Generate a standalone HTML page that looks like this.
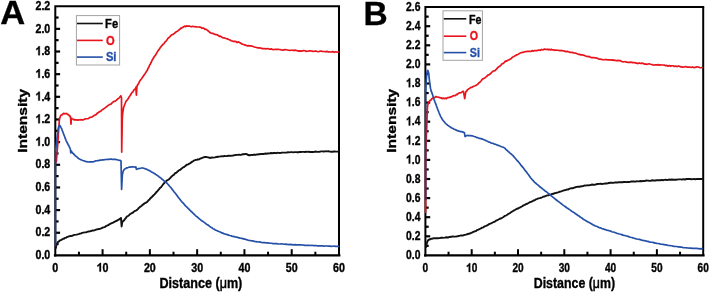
<!DOCTYPE html>
<html><head><meta charset="utf-8"><title>Intensity profiles</title>
<style>
html,body{margin:0;padding:0;background:#fff;}
body{width:709px;height:292px;overflow:hidden;font-family:"Liberation Sans",sans-serif;}
svg{display:block;will-change:transform;}
</style></head><body>
<svg width="709" height="292" viewBox="0 0 709 292">
<rect width="709" height="292" fill="#fff"/>
<text font-family="Liberation Sans, sans-serif" font-weight="bold" stroke-width="0.35" fill="#000" stroke="#000" font-size="33.5" transform="translate(0.2,24.2) scale(1.03,1)">A</text>
<text font-family="Liberation Sans, sans-serif" font-weight="bold" stroke-width="0.35" fill="#000" stroke="#000" font-size="33.5" transform="translate(363.6,25.3) scale(1.0,1)">B</text>
<path d="M55.30 255.40 V6.20 H339.00" fill="none" stroke="#000" stroke-width="2.0" stroke-linecap="square"/>
<path d="M339.00 6.20 V255.40" fill="none" stroke="#000" stroke-width="2.0"/>
<path d="M55.10 255.40 H339.20" fill="none" stroke="#000" stroke-width="2.4" stroke-linecap="square"/>
<line x1="55.30" y1="244.07" x2="58.60" y2="244.07" stroke="#000" stroke-width="2.2"/>
<line x1="55.30" y1="232.75" x2="60.10" y2="232.75" stroke="#000" stroke-width="2.2"/>
<line x1="55.30" y1="221.42" x2="58.60" y2="221.42" stroke="#000" stroke-width="2.2"/>
<line x1="55.30" y1="210.09" x2="60.10" y2="210.09" stroke="#000" stroke-width="2.2"/>
<line x1="55.30" y1="198.76" x2="58.60" y2="198.76" stroke="#000" stroke-width="2.2"/>
<line x1="55.30" y1="187.44" x2="60.10" y2="187.44" stroke="#000" stroke-width="2.2"/>
<line x1="55.30" y1="176.11" x2="58.60" y2="176.11" stroke="#000" stroke-width="2.2"/>
<line x1="55.30" y1="164.78" x2="60.10" y2="164.78" stroke="#000" stroke-width="2.2"/>
<line x1="55.30" y1="153.45" x2="58.60" y2="153.45" stroke="#000" stroke-width="2.2"/>
<line x1="55.30" y1="142.13" x2="60.10" y2="142.13" stroke="#000" stroke-width="2.2"/>
<line x1="55.30" y1="130.80" x2="58.60" y2="130.80" stroke="#000" stroke-width="2.2"/>
<line x1="55.30" y1="119.47" x2="60.10" y2="119.47" stroke="#000" stroke-width="2.2"/>
<line x1="55.30" y1="108.15" x2="58.60" y2="108.15" stroke="#000" stroke-width="2.2"/>
<line x1="55.30" y1="96.82" x2="60.10" y2="96.82" stroke="#000" stroke-width="2.2"/>
<line x1="55.30" y1="85.49" x2="58.60" y2="85.49" stroke="#000" stroke-width="2.2"/>
<line x1="55.30" y1="74.16" x2="60.10" y2="74.16" stroke="#000" stroke-width="2.2"/>
<line x1="55.30" y1="62.84" x2="58.60" y2="62.84" stroke="#000" stroke-width="2.2"/>
<line x1="55.30" y1="51.51" x2="60.10" y2="51.51" stroke="#000" stroke-width="2.2"/>
<line x1="55.30" y1="40.18" x2="58.60" y2="40.18" stroke="#000" stroke-width="2.2"/>
<line x1="55.30" y1="28.85" x2="60.10" y2="28.85" stroke="#000" stroke-width="2.2"/>
<line x1="55.30" y1="17.53" x2="58.60" y2="17.53" stroke="#000" stroke-width="2.2"/>
<line x1="78.94" y1="255.40" x2="78.94" y2="251.70" stroke="#000" stroke-width="2"/>
<line x1="102.58" y1="255.40" x2="102.58" y2="249.20" stroke="#000" stroke-width="2"/>
<line x1="126.22" y1="255.40" x2="126.22" y2="251.70" stroke="#000" stroke-width="2"/>
<line x1="149.87" y1="255.40" x2="149.87" y2="249.20" stroke="#000" stroke-width="2"/>
<line x1="173.51" y1="255.40" x2="173.51" y2="251.70" stroke="#000" stroke-width="2"/>
<line x1="197.15" y1="255.40" x2="197.15" y2="249.20" stroke="#000" stroke-width="2"/>
<line x1="220.79" y1="255.40" x2="220.79" y2="251.70" stroke="#000" stroke-width="2"/>
<line x1="244.43" y1="255.40" x2="244.43" y2="249.20" stroke="#000" stroke-width="2"/>
<line x1="268.07" y1="255.40" x2="268.07" y2="251.70" stroke="#000" stroke-width="2"/>
<line x1="291.72" y1="255.40" x2="291.72" y2="249.20" stroke="#000" stroke-width="2"/>
<line x1="315.36" y1="255.40" x2="315.36" y2="251.70" stroke="#000" stroke-width="2"/>
<text font-family="Liberation Sans, sans-serif" font-weight="bold" stroke-width="0.35" fill="#000" stroke="#000" font-size="12.40" transform="translate(35.477,259.100) scale(0.860,1)">0</text>
<text font-family="Liberation Sans, sans-serif" font-weight="bold" stroke-width="0.35" fill="#000" stroke="#000" font-size="12.40" transform="translate(41.406,259.100) scale(0.860,1)">.</text>
<text font-family="Liberation Sans, sans-serif" font-weight="bold" stroke-width="0.35" fill="#000" stroke="#000" font-size="12.40" transform="translate(44.371,259.100) scale(0.860,1)">0</text>
<text font-family="Liberation Sans, sans-serif" font-weight="bold" stroke-width="0.35" fill="#000" stroke="#000" font-size="12.40" transform="translate(35.477,236.445) scale(0.860,1)">0</text>
<text font-family="Liberation Sans, sans-serif" font-weight="bold" stroke-width="0.35" fill="#000" stroke="#000" font-size="12.40" transform="translate(41.406,236.445) scale(0.860,1)">.</text>
<text font-family="Liberation Sans, sans-serif" font-weight="bold" stroke-width="0.35" fill="#000" stroke="#000" font-size="12.40" transform="translate(44.371,236.445) scale(0.860,1)">2</text>
<text font-family="Liberation Sans, sans-serif" font-weight="bold" stroke-width="0.35" fill="#000" stroke="#000" font-size="12.40" transform="translate(35.477,213.791) scale(0.860,1)">0</text>
<text font-family="Liberation Sans, sans-serif" font-weight="bold" stroke-width="0.35" fill="#000" stroke="#000" font-size="12.40" transform="translate(41.406,213.791) scale(0.860,1)">.</text>
<text font-family="Liberation Sans, sans-serif" font-weight="bold" stroke-width="0.35" fill="#000" stroke="#000" font-size="12.40" transform="translate(44.371,213.791) scale(0.860,1)">4</text>
<text font-family="Liberation Sans, sans-serif" font-weight="bold" stroke-width="0.35" fill="#000" stroke="#000" font-size="12.40" transform="translate(35.477,191.136) scale(0.860,1)">0</text>
<text font-family="Liberation Sans, sans-serif" font-weight="bold" stroke-width="0.35" fill="#000" stroke="#000" font-size="12.40" transform="translate(41.406,191.136) scale(0.860,1)">.</text>
<text font-family="Liberation Sans, sans-serif" font-weight="bold" stroke-width="0.35" fill="#000" stroke="#000" font-size="12.40" transform="translate(44.371,191.136) scale(0.860,1)">6</text>
<text font-family="Liberation Sans, sans-serif" font-weight="bold" stroke-width="0.35" fill="#000" stroke="#000" font-size="12.40" transform="translate(35.477,168.482) scale(0.860,1)">0</text>
<text font-family="Liberation Sans, sans-serif" font-weight="bold" stroke-width="0.35" fill="#000" stroke="#000" font-size="12.40" transform="translate(41.406,168.482) scale(0.860,1)">.</text>
<text font-family="Liberation Sans, sans-serif" font-weight="bold" stroke-width="0.35" fill="#000" stroke="#000" font-size="12.40" transform="translate(44.371,168.482) scale(0.860,1)">8</text>
<path d="M405 0H266V516Q192 446 78 410V536Q140 556 206 606Q270 656 292 716H405Z" fill="#000" stroke="#000" stroke-width="0.35" vector-effect="non-scaling-stroke" transform="translate(35.477,145.827) scale(0.01066,-0.01240)"/>
<text font-family="Liberation Sans, sans-serif" font-weight="bold" stroke-width="0.35" fill="#000" stroke="#000" font-size="12.40" transform="translate(41.406,145.827) scale(0.860,1)">.</text>
<text font-family="Liberation Sans, sans-serif" font-weight="bold" stroke-width="0.35" fill="#000" stroke="#000" font-size="12.40" transform="translate(44.371,145.827) scale(0.860,1)">0</text>
<path d="M405 0H266V516Q192 446 78 410V536Q140 556 206 606Q270 656 292 716H405Z" fill="#000" stroke="#000" stroke-width="0.35" vector-effect="non-scaling-stroke" transform="translate(35.477,123.173) scale(0.01066,-0.01240)"/>
<text font-family="Liberation Sans, sans-serif" font-weight="bold" stroke-width="0.35" fill="#000" stroke="#000" font-size="12.40" transform="translate(41.406,123.173) scale(0.860,1)">.</text>
<text font-family="Liberation Sans, sans-serif" font-weight="bold" stroke-width="0.35" fill="#000" stroke="#000" font-size="12.40" transform="translate(44.371,123.173) scale(0.860,1)">2</text>
<path d="M405 0H266V516Q192 446 78 410V536Q140 556 206 606Q270 656 292 716H405Z" fill="#000" stroke="#000" stroke-width="0.35" vector-effect="non-scaling-stroke" transform="translate(35.477,100.518) scale(0.01066,-0.01240)"/>
<text font-family="Liberation Sans, sans-serif" font-weight="bold" stroke-width="0.35" fill="#000" stroke="#000" font-size="12.40" transform="translate(41.406,100.518) scale(0.860,1)">.</text>
<text font-family="Liberation Sans, sans-serif" font-weight="bold" stroke-width="0.35" fill="#000" stroke="#000" font-size="12.40" transform="translate(44.371,100.518) scale(0.860,1)">4</text>
<path d="M405 0H266V516Q192 446 78 410V536Q140 556 206 606Q270 656 292 716H405Z" fill="#000" stroke="#000" stroke-width="0.35" vector-effect="non-scaling-stroke" transform="translate(35.477,77.864) scale(0.01066,-0.01240)"/>
<text font-family="Liberation Sans, sans-serif" font-weight="bold" stroke-width="0.35" fill="#000" stroke="#000" font-size="12.40" transform="translate(41.406,77.864) scale(0.860,1)">.</text>
<text font-family="Liberation Sans, sans-serif" font-weight="bold" stroke-width="0.35" fill="#000" stroke="#000" font-size="12.40" transform="translate(44.371,77.864) scale(0.860,1)">6</text>
<path d="M405 0H266V516Q192 446 78 410V536Q140 556 206 606Q270 656 292 716H405Z" fill="#000" stroke="#000" stroke-width="0.35" vector-effect="non-scaling-stroke" transform="translate(35.477,55.209) scale(0.01066,-0.01240)"/>
<text font-family="Liberation Sans, sans-serif" font-weight="bold" stroke-width="0.35" fill="#000" stroke="#000" font-size="12.40" transform="translate(41.406,55.209) scale(0.860,1)">.</text>
<text font-family="Liberation Sans, sans-serif" font-weight="bold" stroke-width="0.35" fill="#000" stroke="#000" font-size="12.40" transform="translate(44.371,55.209) scale(0.860,1)">8</text>
<text font-family="Liberation Sans, sans-serif" font-weight="bold" stroke-width="0.35" fill="#000" stroke="#000" font-size="12.40" transform="translate(35.477,32.555) scale(0.860,1)">2</text>
<text font-family="Liberation Sans, sans-serif" font-weight="bold" stroke-width="0.35" fill="#000" stroke="#000" font-size="12.40" transform="translate(41.406,32.555) scale(0.860,1)">.</text>
<text font-family="Liberation Sans, sans-serif" font-weight="bold" stroke-width="0.35" fill="#000" stroke="#000" font-size="12.40" transform="translate(44.371,32.555) scale(0.860,1)">0</text>
<text font-family="Liberation Sans, sans-serif" font-weight="bold" stroke-width="0.35" fill="#000" stroke="#000" font-size="12.40" transform="translate(35.477,9.900) scale(0.860,1)">2</text>
<text font-family="Liberation Sans, sans-serif" font-weight="bold" stroke-width="0.35" fill="#000" stroke="#000" font-size="12.40" transform="translate(41.406,9.900) scale(0.860,1)">.</text>
<text font-family="Liberation Sans, sans-serif" font-weight="bold" stroke-width="0.35" fill="#000" stroke="#000" font-size="12.40" transform="translate(44.371,9.900) scale(0.860,1)">2</text>
<text font-family="Liberation Sans, sans-serif" font-weight="bold" stroke-width="0.35" fill="#000" stroke="#000" font-size="12.10" transform="translate(52.323,271.600) scale(0.885,1)">0</text>
<path d="M405 0H266V516Q192 446 78 410V536Q140 556 206 606Q270 656 292 716H405Z" fill="#000" stroke="#000" stroke-width="0.35" vector-effect="non-scaling-stroke" transform="translate(96.629,271.600) scale(0.01071,-0.01210)"/>
<text font-family="Liberation Sans, sans-serif" font-weight="bold" stroke-width="0.35" fill="#000" stroke="#000" font-size="12.10" transform="translate(102.583,271.600) scale(0.885,1)">0</text>
<text font-family="Liberation Sans, sans-serif" font-weight="bold" stroke-width="0.35" fill="#000" stroke="#000" font-size="12.10" transform="translate(143.913,271.600) scale(0.885,1)">2</text>
<text font-family="Liberation Sans, sans-serif" font-weight="bold" stroke-width="0.35" fill="#000" stroke="#000" font-size="12.10" transform="translate(149.867,271.600) scale(0.885,1)">0</text>
<text font-family="Liberation Sans, sans-serif" font-weight="bold" stroke-width="0.35" fill="#000" stroke="#000" font-size="12.10" transform="translate(191.196,271.600) scale(0.885,1)">3</text>
<text font-family="Liberation Sans, sans-serif" font-weight="bold" stroke-width="0.35" fill="#000" stroke="#000" font-size="12.10" transform="translate(197.150,271.600) scale(0.885,1)">0</text>
<text font-family="Liberation Sans, sans-serif" font-weight="bold" stroke-width="0.35" fill="#000" stroke="#000" font-size="12.10" transform="translate(238.479,271.600) scale(0.885,1)">4</text>
<text font-family="Liberation Sans, sans-serif" font-weight="bold" stroke-width="0.35" fill="#000" stroke="#000" font-size="12.10" transform="translate(244.433,271.600) scale(0.885,1)">0</text>
<text font-family="Liberation Sans, sans-serif" font-weight="bold" stroke-width="0.35" fill="#000" stroke="#000" font-size="12.10" transform="translate(285.763,271.600) scale(0.885,1)">5</text>
<text font-family="Liberation Sans, sans-serif" font-weight="bold" stroke-width="0.35" fill="#000" stroke="#000" font-size="12.10" transform="translate(291.717,271.600) scale(0.885,1)">0</text>
<text font-family="Liberation Sans, sans-serif" font-weight="bold" stroke-width="0.35" fill="#000" stroke="#000" font-size="12.10" transform="translate(333.046,271.600) scale(0.885,1)">6</text>
<text font-family="Liberation Sans, sans-serif" font-weight="bold" stroke-width="0.35" fill="#000" stroke="#000" font-size="12.10" transform="translate(339.000,271.600) scale(0.885,1)">0</text>
<text font-family="Liberation Sans, sans-serif" font-weight="bold" stroke-width="0.35" fill="#000" stroke="#000" font-size="14.4" text-anchor="middle" transform="translate(200.9,287.6) scale(0.875,1)">Distance (<tspan font-weight="normal" stroke-width="0.5">μ</tspan>m)</text>
<text font-family="Liberation Sans, sans-serif" font-weight="bold" stroke-width="0.35" fill="#000" stroke="#000" font-size="13.6" text-anchor="middle" transform="translate(27.2,120.85) rotate(-90) scale(1.144,0.95)">Intensity</text>
<rect x="76.40" y="15.60" width="43.20" height="49.40" fill="#fff" stroke="#a3a3a3" stroke-width="1"/>
<line x1="77.00" y1="23.50" x2="102.80" y2="23.50" stroke="#111" stroke-width="1.6"/>
<text font-family="Liberation Sans, sans-serif" font-weight="bold" stroke-width="0.35" font-size="12.00" fill="#000" stroke="#000" transform="translate(105.10,27.80) scale(0.930,1)">Fe</text>
<line x1="77.00" y1="40.40" x2="102.80" y2="40.40" stroke="#e8141c" stroke-width="1.6"/>
<text font-family="Liberation Sans, sans-serif" font-weight="bold" stroke-width="0.35" font-size="12.00" fill="#e8141c" stroke="#e8141c" transform="translate(105.90,44.70) scale(0.930,1)">O</text>
<line x1="77.00" y1="57.10" x2="102.80" y2="57.10" stroke="#2450a8" stroke-width="1.6"/>
<text font-family="Liberation Sans, sans-serif" font-weight="bold" stroke-width="0.35" font-size="12.00" fill="#2450a8" stroke="#2450a8" transform="translate(105.90,61.40) scale(0.930,1)">Si</text>
<polyline points="55.90,247.90 55.93,247.58 56.02,247.30 56.15,246.22 56.32,245.69 56.50,244.92 56.68,244.22 56.89,243.95 57.11,243.19 57.38,242.92 57.70,242.26 58.11,241.80 58.58,241.55 59.09,241.36 59.63,240.57 60.20,240.25 60.87,240.06 61.58,239.85 62.33,239.27 63.11,238.80 63.90,238.77 64.80,237.85 65.72,237.92 66.67,237.23 67.69,236.78 68.80,236.39 70.52,235.97 72.41,235.74 74.43,234.86 76.51,234.57 78.60,234.08 79.79,233.64 80.99,233.44 82.22,232.88 83.46,232.58 84.72,232.37 85.98,232.34 87.24,231.90 88.50,231.53 89.75,231.36 91.00,230.97 92.27,230.56 93.54,230.51 94.84,230.12 96.15,229.53 97.43,229.37 98.71,229.00 99.92,228.83 101.13,228.39 103.30,227.38 104.69,227.17 105.96,226.06 107.14,225.59 108.28,225.15 109.40,224.21 110.37,223.89 111.32,223.14 112.24,223.00 113.14,222.59 114.00,222.04 114.69,221.88 115.35,221.26 116.00,221.18 116.65,220.81 117.30,220.44 118.15,219.85 119.13,219.41 120.05,218.83 120.73,218.08 121.00,217.99 121.09,218.88 121.17,220.47 121.26,221.67 121.34,223.09 121.43,224.22 121.51,225.15 121.60,226.44 121.83,225.19 122.07,223.43 122.30,222.28 122.48,221.91 122.94,221.37 123.56,220.64 124.20,220.30 124.75,219.29 125.16,218.81 125.55,218.34 125.93,218.06 126.34,217.08 126.80,216.77 127.37,216.29 127.99,215.97 128.65,215.44 129.32,214.98 130.00,214.18 130.72,213.76 131.46,213.24 132.21,213.05 132.96,212.62 133.70,211.70 134.39,211.30 135.08,210.94 135.76,210.55 136.44,210.27 137.10,209.85 137.80,209.07 138.47,208.25 139.14,207.79 139.81,207.07 140.50,206.54 141.19,206.18 141.88,205.48 142.59,204.84 143.29,204.38 144.00,203.90 144.69,203.08 145.39,203.10 146.09,202.59 146.76,202.19 147.40,201.67 147.94,200.98 148.44,200.52 148.92,199.87 149.43,199.65 150.00,198.75 151.00,197.77 152.13,196.72 153.32,195.49 154.50,194.38 155.60,193.05 156.52,192.00 157.39,191.08 158.24,190.05 159.10,189.17 160.00,187.93 161.04,187.18 162.12,185.74 163.21,184.18 164.31,182.99 165.40,181.91 166.34,181.07 167.29,180.15 168.23,179.82 169.14,179.19 170.00,178.18 170.66,177.59 171.27,176.79 171.86,176.23 172.46,175.79 173.10,175.17 173.85,174.82 174.64,173.77 175.45,173.01 176.24,172.87 177.00,172.02 177.62,171.31 178.21,171.07 178.80,170.33 179.39,170.17 180.00,169.97 180.66,169.42 181.34,168.85 182.03,168.13 182.72,167.71 183.40,167.11 184.08,166.97 184.75,166.34 185.43,165.99 186.11,165.26 186.80,164.74 187.49,164.65 188.19,164.34 188.90,163.88 189.60,163.46 190.30,163.08 190.98,162.64 191.66,161.96 192.34,161.74 193.02,161.27 193.70,160.74 194.38,160.40 195.06,160.21 195.75,159.89 196.43,159.85 197.10,159.76 197.67,159.30 198.22,159.44 198.77,159.36 199.36,159.22 200.00,158.72 201.08,158.28 202.29,157.81 203.56,157.31 204.82,156.93 206.00,156.97 206.92,157.18 207.78,157.36 208.64,157.43 209.53,157.77 210.50,157.97 211.86,157.49 213.30,157.58 214.82,157.41 216.42,157.02 218.10,156.74 220.45,156.35 221.74,156.08 223.02,156.32 224.34,155.97 225.67,156.14 226.99,156.15 228.30,155.73 229.55,155.64 230.80,155.85 232.94,155.55 235.08,155.07 237.15,154.88 239.08,154.71 240.80,154.93 241.82,154.69 242.76,154.10 243.63,154.26 244.44,154.20 245.20,153.99 245.71,153.89 246.18,154.14 246.62,154.07 247.06,154.18 247.50,154.86 247.92,154.80 248.34,154.85 248.75,155.19 249.17,155.00 249.60,155.31 250.06,155.31 250.53,154.95 251.00,154.94 251.49,154.92 252.00,154.85 252.61,155.01 253.24,154.77 253.89,154.80 254.60,154.57 255.40,154.93 257.04,154.43 259.00,154.25 261.09,154.06 263.14,154.01 265.00,153.56 266.22,153.74 267.30,153.45 268.37,153.43 269.56,153.38 271.00,153.03 272.30,153.20 273.60,152.99 274.90,152.82 276.12,153.20 277.34,152.79 278.55,152.89 279.77,152.97 281.12,152.81 282.47,152.61 283.82,152.65 285.18,152.60 286.56,152.66 287.95,152.22 289.34,152.41 290.73,152.17 292.04,152.13 293.36,152.36 294.68,152.16 296.00,152.13 297.27,152.21 298.53,152.26 299.80,151.95 301.07,152.01 302.35,151.92 303.64,151.90 304.92,151.97 306.21,151.80 307.49,151.83 308.76,151.77 310.04,152.01 311.31,151.85 312.56,151.93 313.80,151.95 315.04,151.55 316.28,151.70 317.85,151.89 319.43,151.81 321.00,151.40 322.43,151.37 323.85,151.54 325.28,151.32 326.84,151.40 328.39,151.30 329.95,151.62 331.38,151.68 332.81,151.74 334.24,151.32 335.81,151.63 337.38,151.59 338.60,151.50" fill="none" stroke="#111" stroke-width="1.90" stroke-linejoin="round" stroke-linecap="round"/>
<polyline points="56.30,161.70 56.37,161.52 56.53,159.55 56.65,157.55 56.76,156.80 56.88,154.88 57.00,153.51 57.10,152.67 57.20,151.28 57.37,148.69 57.53,146.91 57.70,144.99 57.85,142.86 58.00,140.74 58.13,138.81 58.25,137.08 58.37,134.44 58.48,132.91 58.60,130.95 58.70,129.20 58.80,128.14 58.90,127.11 59.00,125.77 59.10,124.13 59.17,123.68 59.21,122.28 59.27,121.22 59.39,119.33 59.60,118.40 59.84,117.41 60.12,117.26 60.45,116.12 60.84,115.35 61.30,115.03 61.83,114.98 62.43,114.49 63.08,113.68 63.75,113.34 64.40,113.85 65.02,113.56 65.66,113.77 66.30,113.44 66.91,113.66 67.50,114.46 68.07,114.54 68.63,114.60 69.17,115.72 69.63,115.89 70.00,116.45 70.21,116.25 70.38,117.37 70.50,117.16 70.58,118.17 70.60,117.96 70.68,119.16 70.76,120.64 70.84,122.26 70.92,123.01 71.00,124.19 71.10,123.05 71.20,121.33 71.30,119.75 71.40,118.32 71.57,118.30 72.02,118.63 72.65,118.98 73.34,119.23 74.00,119.82 74.85,119.63 75.78,120.01 76.76,119.90 77.78,120.14 78.80,119.90 79.98,120.02 81.19,119.66 82.44,120.03 83.71,119.58 85.00,118.94 86.58,118.73 88.23,118.59 89.90,117.30 91.54,117.22 93.10,116.14 94.57,115.33 95.99,114.62 97.37,113.20 98.71,112.26 100.00,111.46 101.05,110.96 102.06,109.71 103.04,109.43 104.01,108.64 105.00,107.91 105.98,107.09 106.96,106.43 107.94,105.58 108.92,105.03 109.90,104.34 110.92,104.18 111.94,103.01 112.95,102.16 113.95,101.35 114.90,101.29 115.69,100.78 116.47,100.13 117.22,99.33 117.94,98.81 118.60,98.33 119.21,97.87 119.85,96.91 120.43,96.47 120.84,95.80 121.00,96.19 121.50,97.70 121.50,98.55 121.51,99.50 121.51,101.32 121.52,101.98 121.52,103.22 121.53,104.13 121.53,105.66 121.54,106.95 121.54,108.18 121.54,109.14 121.55,110.60 121.55,111.39 121.56,112.82 121.56,113.88 121.57,115.35 121.57,116.26 121.58,117.45 121.58,118.90 121.58,120.04 121.59,121.55 121.59,122.71 121.60,124.11 121.60,125.24 121.61,126.49 121.61,127.84 121.62,128.64 121.62,129.79 121.62,131.56 121.63,132.06 121.63,133.75 121.64,134.90 121.64,135.60 121.65,137.47 121.65,138.73 121.66,139.72 121.66,141.02 121.66,142.29 121.67,142.93 121.67,144.47 121.68,145.66 121.68,147.15 121.69,148.33 121.69,149.56 121.70,150.56 121.70,152.03 121.72,150.65 121.74,149.46 121.76,147.86 121.79,146.49 121.81,145.37 121.83,144.36 121.85,142.94 121.87,142.35 121.89,140.92 121.91,139.77 121.94,138.57 121.96,137.41 121.98,136.04 122.00,134.43 122.02,133.90 122.04,132.65 122.06,131.24 122.09,130.07 122.11,128.97 122.13,127.26 122.15,126.62 122.17,125.01 122.19,123.66 122.21,122.62 122.24,121.80 122.26,120.16 122.28,119.41 122.30,118.40 122.40,116.74 122.50,115.40 122.60,114.23 122.70,113.15 122.76,112.82 122.91,111.67 123.13,110.32 123.40,108.40 123.70,107.20 124.02,106.22 124.39,105.56 124.79,104.13 125.23,103.33 125.70,101.89 126.17,101.11 126.67,100.52 127.20,100.11 127.75,99.37 128.30,98.55 128.96,97.20 129.64,96.31 130.34,95.16 131.06,94.06 131.80,92.68 132.72,92.07 133.80,90.06 134.82,89.38 135.59,88.36 135.90,87.19 135.98,88.87 136.07,90.47 136.15,91.89 136.23,92.76 136.32,93.91 136.40,95.16 136.47,94.52 136.54,92.64 136.61,91.70 136.69,90.07 136.76,89.13 136.83,88.24 136.90,86.29 136.94,86.77 137.04,86.24 137.20,86.18 137.39,85.60 137.60,84.77 138.15,84.38 138.86,82.87 139.69,81.21 140.55,79.87 141.40,78.99 142.32,77.62 143.27,76.17 144.25,74.67 145.23,73.41 146.20,71.85 147.36,70.18 147.93,68.33 148.50,67.81 149.07,66.70 149.64,64.90 150.22,64.39 150.80,63.03 151.40,62.06 152.00,60.42 153.16,58.48 154.34,56.53 155.54,55.11 156.76,52.89 158.00,50.88 159.17,49.31 160.36,47.61 161.56,45.89 162.78,44.44 164.00,43.58 165.19,41.70 166.38,40.84 167.59,38.89 168.80,37.60 170.00,36.61 171.02,35.42 172.03,34.73 173.05,34.42 174.07,33.59 175.10,32.76 176.15,31.84 177.23,31.32 178.30,30.61 179.34,29.58 180.30,29.08 180.96,28.06 181.56,28.19 182.14,27.53 182.74,27.42 183.40,27.02 184.16,26.47 184.96,26.09 185.79,26.70 186.64,25.94 187.50,26.18 188.47,26.05 189.47,26.05 190.50,26.50 191.54,26.80 192.60,26.30 193.81,26.75 195.07,26.60 196.34,26.97 197.59,27.02 198.80,27.02 199.88,27.19 200.95,27.41 201.99,28.20 202.98,28.10 203.90,28.16 204.60,29.05 205.25,29.47 205.87,29.39 206.45,29.52 207.00,29.94 207.42,30.17 207.79,30.71 208.16,30.82 208.55,31.27 209.00,31.60 209.72,32.26 210.53,32.91 211.40,33.17 212.30,33.26 213.20,33.63 214.18,34.11 215.20,34.36 216.24,34.70 217.27,34.84 218.30,35.41 219.31,36.40 220.31,36.11 221.31,36.86 222.33,37.39 223.40,38.00 224.67,37.93 225.99,38.45 227.34,38.89 228.68,39.48 230.00,39.95 231.26,40.80 232.53,41.14 233.79,41.57 234.96,41.21 236.00,41.51 236.56,42.20 237.05,42.44 237.51,42.15 238.01,42.33 238.60,41.98 239.99,42.76 241.64,43.83 243.45,44.44 245.31,45.14 247.10,45.80 248.81,45.61 250.53,45.85 252.25,46.20 253.98,46.81 255.70,47.25 257.40,47.80 259.10,47.94 260.79,48.20 262.49,48.58 264.20,48.56 265.91,48.82 267.63,48.52 269.35,49.24 271.08,48.87 272.80,49.55 274.52,49.44 276.24,49.28 277.96,49.25 279.68,49.48 281.40,49.91 283.14,50.08 284.91,49.69 286.67,49.75 288.38,50.23 290.00,50.37 291.20,50.27 292.28,50.19 293.36,50.56 294.55,50.12 296.00,50.43 297.32,50.62 298.65,51.09 299.97,50.88 301.22,51.13 302.48,50.83 303.73,50.68 304.98,50.74 306.36,51.38 307.74,51.22 309.11,50.93 310.49,50.74 311.87,51.19 313.25,51.39 314.63,51.22 316.01,51.13 317.25,51.52 318.50,51.77 319.75,51.23 321.00,51.11 322.43,51.41 323.85,51.52 325.28,51.78 326.83,51.42 328.39,51.97 329.95,51.97 331.38,51.81 332.81,51.60 334.24,52.28 335.81,51.77 337.38,52.24 338.60,52.00" fill="none" stroke="#e8141c" stroke-width="1.70" stroke-linejoin="round" stroke-linecap="round"/>
<line x1="55.6" y1="246" x2="55.6" y2="150" stroke="#1d3f8f" stroke-width="1.5"/>
<polyline points="55.70,149.92 55.75,149.51 55.87,148.61 56.04,147.02 56.22,145.62 56.40,144.00 56.62,142.04 56.86,140.01 57.10,137.97 57.36,135.98 57.60,134.13 57.79,132.33 57.95,130.84 58.13,129.30 58.34,128.21 58.60,126.89 58.76,126.39 58.93,125.94 59.11,125.66 59.30,125.53 59.50,125.42 59.70,125.44 59.92,125.72 60.15,126.01 60.38,126.19 60.60,126.51 60.93,127.34 61.26,127.98 61.59,128.56 61.93,129.62 62.30,130.46 62.96,132.19 63.70,134.21 64.48,136.32 65.26,138.34 66.00,140.23 66.52,141.37 67.04,142.58 67.55,143.29 68.04,144.45 68.50,145.11 68.86,145.86 69.22,146.67 69.56,147.32 69.86,147.81 70.10,148.26 70.23,148.79 70.34,149.19 70.42,149.74 70.48,149.80 70.50,149.96 70.65,151.62 70.80,152.86 71.40,151.17 71.45,151.37 71.57,151.56 71.74,151.63 71.96,151.95 72.20,152.27 72.80,153.22 73.59,153.85 74.48,154.89 75.41,155.82 76.30,156.45 77.08,157.10 77.86,157.95 78.66,158.45 79.49,158.91 80.40,159.56 81.54,159.99 82.78,160.47 84.07,160.82 85.36,161.41 86.60,161.72 87.64,161.80 88.67,161.98 89.68,161.74 90.69,161.78 91.70,161.79 92.72,161.81 93.74,161.62 94.76,161.22 95.78,160.94 96.80,160.78 97.84,160.60 98.88,160.54 99.92,160.12 100.96,160.14 102.00,159.97 103.02,159.88 104.04,159.78 105.06,159.65 106.08,159.51 107.10,159.45 108.12,159.39 109.14,159.46 110.16,159.19 111.18,159.20 112.20,159.38 113.26,159.27 114.34,159.29 115.42,159.38 116.45,159.67 117.40,159.75 118.12,160.08 118.83,160.22 119.50,160.42 120.07,160.37 120.50,160.48 120.65,160.55 120.78,160.75 120.89,160.89 120.97,160.86 121.00,160.82 121.03,162.12 121.05,163.42 121.08,164.68 121.10,165.95 121.13,167.22 121.16,168.41 121.18,169.49 121.21,170.95 121.23,172.03 121.26,173.35 121.29,174.54 121.31,175.89 121.34,176.97 121.37,178.23 121.39,179.48 121.42,180.69 121.44,182.15 121.47,183.31 121.50,184.47 121.52,185.74 121.55,187.16 121.57,188.26 121.60,189.42 121.66,188.32 121.73,187.00 121.79,185.83 121.85,184.29 121.92,183.13 121.98,181.96 122.05,180.69 122.11,179.44 122.17,177.91 122.24,176.71 122.30,175.39 122.60,173.71 122.90,172.24 122.96,171.93 123.14,171.55 123.40,170.74 123.73,170.23 124.10,169.58 124.59,169.08 125.16,168.84 125.80,168.53 126.49,167.96 127.20,167.83 128.12,167.55 129.13,167.19 130.18,167.06 131.22,166.86 132.20,166.81 133.09,166.83 134.07,167.01 134.98,167.12 135.64,167.07 135.90,167.05 135.90,166.95 136.15,168.25 136.40,169.31 138.30,168.64 138.63,168.53 139.46,168.53 140.58,168.26 141.77,167.97 142.80,167.98 143.68,168.22 144.54,168.53 145.40,168.90 146.25,169.10 147.10,169.50 147.97,170.05 148.83,170.39 149.69,170.80 150.55,171.27 151.40,171.94 152.27,172.22 153.13,172.77 153.99,173.20 154.85,173.73 155.70,174.41 156.57,175.05 157.44,175.48 158.29,176.08 159.15,176.90 160.00,177.41 160.87,178.04 161.75,179.01 162.62,179.58 163.48,180.40 164.30,180.97 165.00,181.70 165.67,182.13 166.33,182.60 167.00,183.16 167.70,184.02 168.73,185.16 169.80,186.50 170.90,187.61 172.01,189.16 173.10,190.46 174.21,191.93 175.33,193.30 176.44,194.82 177.53,196.34 178.60,197.83 179.50,198.71 180.38,199.91 181.25,201.06 182.12,202.14 183.00,202.91 183.83,203.81 184.67,204.94 185.51,205.82 186.35,206.53 187.20,207.27 188.06,208.40 188.93,209.12 189.80,210.15 190.66,210.92 191.50,211.80 192.20,212.28 192.87,213.11 193.54,213.57 194.24,214.28 195.00,215.10 196.09,216.08 197.27,216.95 198.50,218.04 199.76,219.17 201.00,220.21 202.19,221.05 203.38,221.82 204.59,222.68 205.80,223.64 207.00,224.52 208.20,225.12 209.39,226.15 210.58,227.08 211.78,227.69 213.00,228.70 214.18,229.16 215.38,229.93 216.58,230.50 217.79,231.09 219.00,231.54 220.19,232.10 221.39,232.65 222.59,233.09 223.79,233.61 225.00,233.98 226.21,234.39 227.45,234.64 228.68,235.18 229.88,235.48 231.00,235.72 231.83,236.12 232.58,236.34 233.33,236.45 234.12,236.57 235.00,236.89 236.54,237.16 238.31,237.58 240.16,238.09 241.94,238.40 243.50,238.88 244.41,239.14 245.21,239.22 245.98,239.61 246.79,239.66 247.70,240.07 249.21,240.41 250.88,240.67 252.66,240.87 254.45,241.32 256.20,241.56 257.88,241.98 259.56,241.94 261.24,242.35 262.92,242.57 264.60,242.67 266.30,242.87 268.00,242.85 269.70,243.25 271.40,243.25 273.10,243.54 274.75,243.66 276.37,243.55 278.00,243.85 279.69,244.01 281.50,243.87 282.71,244.03 283.93,244.24 285.19,244.14 286.46,244.44 287.79,244.33 289.13,244.58 290.55,244.46 291.97,244.64 293.48,244.85 295.00,244.71 296.58,244.80 298.16,244.94 299.74,244.96 301.06,244.93 302.39,245.02 303.71,245.07 305.03,245.35 306.41,245.33 307.80,245.44 309.18,245.28 310.56,245.51 311.92,245.36 313.27,245.53 314.63,245.61 315.99,245.58 317.24,245.78 318.49,245.73 319.75,245.78 321.00,245.91 322.43,245.73 323.87,246.05 325.30,245.99 326.86,245.97 328.41,246.15 329.97,246.04 331.40,246.31 332.83,246.23 334.25,246.21 335.82,246.39 337.38,246.34 338.60,246.40" fill="none" stroke="#2450a8" stroke-width="1.70" stroke-linejoin="round" stroke-linecap="round"/>
<path d="M425.40 255.40 V7.10 H703.20" fill="none" stroke="#000" stroke-width="2.0" stroke-linecap="square"/>
<path d="M703.20 7.10 V255.40" fill="none" stroke="#000" stroke-width="2.0"/>
<path d="M425.20 255.40 H703.40" fill="none" stroke="#000" stroke-width="2.4" stroke-linecap="square"/>
<line x1="425.40" y1="245.85" x2="428.70" y2="245.85" stroke="#000" stroke-width="2.2"/>
<line x1="425.40" y1="236.30" x2="430.20" y2="236.30" stroke="#000" stroke-width="2.2"/>
<line x1="425.40" y1="226.75" x2="428.70" y2="226.75" stroke="#000" stroke-width="2.2"/>
<line x1="425.40" y1="217.20" x2="430.20" y2="217.20" stroke="#000" stroke-width="2.2"/>
<line x1="425.40" y1="207.65" x2="428.70" y2="207.65" stroke="#000" stroke-width="2.2"/>
<line x1="425.40" y1="198.10" x2="430.20" y2="198.10" stroke="#000" stroke-width="2.2"/>
<line x1="425.40" y1="188.55" x2="428.70" y2="188.55" stroke="#000" stroke-width="2.2"/>
<line x1="425.40" y1="179.00" x2="430.20" y2="179.00" stroke="#000" stroke-width="2.2"/>
<line x1="425.40" y1="169.45" x2="428.70" y2="169.45" stroke="#000" stroke-width="2.2"/>
<line x1="425.40" y1="159.90" x2="430.20" y2="159.90" stroke="#000" stroke-width="2.2"/>
<line x1="425.40" y1="150.35" x2="428.70" y2="150.35" stroke="#000" stroke-width="2.2"/>
<line x1="425.40" y1="140.80" x2="430.20" y2="140.80" stroke="#000" stroke-width="2.2"/>
<line x1="425.40" y1="131.25" x2="428.70" y2="131.25" stroke="#000" stroke-width="2.2"/>
<line x1="425.40" y1="121.70" x2="430.20" y2="121.70" stroke="#000" stroke-width="2.2"/>
<line x1="425.40" y1="112.15" x2="428.70" y2="112.15" stroke="#000" stroke-width="2.2"/>
<line x1="425.40" y1="102.60" x2="430.20" y2="102.60" stroke="#000" stroke-width="2.2"/>
<line x1="425.40" y1="93.05" x2="428.70" y2="93.05" stroke="#000" stroke-width="2.2"/>
<line x1="425.40" y1="83.50" x2="430.20" y2="83.50" stroke="#000" stroke-width="2.2"/>
<line x1="425.40" y1="73.95" x2="428.70" y2="73.95" stroke="#000" stroke-width="2.2"/>
<line x1="425.40" y1="64.40" x2="430.20" y2="64.40" stroke="#000" stroke-width="2.2"/>
<line x1="425.40" y1="54.85" x2="428.70" y2="54.85" stroke="#000" stroke-width="2.2"/>
<line x1="425.40" y1="45.30" x2="430.20" y2="45.30" stroke="#000" stroke-width="2.2"/>
<line x1="425.40" y1="35.75" x2="428.70" y2="35.75" stroke="#000" stroke-width="2.2"/>
<line x1="425.40" y1="26.20" x2="430.20" y2="26.20" stroke="#000" stroke-width="2.2"/>
<line x1="425.40" y1="16.65" x2="428.70" y2="16.65" stroke="#000" stroke-width="2.2"/>
<line x1="448.55" y1="255.40" x2="448.55" y2="251.70" stroke="#000" stroke-width="2"/>
<line x1="471.70" y1="255.40" x2="471.70" y2="249.20" stroke="#000" stroke-width="2"/>
<line x1="494.85" y1="255.40" x2="494.85" y2="251.70" stroke="#000" stroke-width="2"/>
<line x1="518.00" y1="255.40" x2="518.00" y2="249.20" stroke="#000" stroke-width="2"/>
<line x1="541.15" y1="255.40" x2="541.15" y2="251.70" stroke="#000" stroke-width="2"/>
<line x1="564.30" y1="255.40" x2="564.30" y2="249.20" stroke="#000" stroke-width="2"/>
<line x1="587.45" y1="255.40" x2="587.45" y2="251.70" stroke="#000" stroke-width="2"/>
<line x1="610.60" y1="255.40" x2="610.60" y2="249.20" stroke="#000" stroke-width="2"/>
<line x1="633.75" y1="255.40" x2="633.75" y2="251.70" stroke="#000" stroke-width="2"/>
<line x1="656.90" y1="255.40" x2="656.90" y2="249.20" stroke="#000" stroke-width="2"/>
<line x1="680.05" y1="255.40" x2="680.05" y2="251.70" stroke="#000" stroke-width="2"/>
<text font-family="Liberation Sans, sans-serif" font-weight="bold" stroke-width="0.35" fill="#000" stroke="#000" font-size="12.40" transform="translate(406.008,259.100) scale(0.835,1)">0</text>
<text font-family="Liberation Sans, sans-serif" font-weight="bold" stroke-width="0.35" fill="#000" stroke="#000" font-size="12.40" transform="translate(411.765,259.100) scale(0.835,1)">.</text>
<text font-family="Liberation Sans, sans-serif" font-weight="bold" stroke-width="0.35" fill="#000" stroke="#000" font-size="12.40" transform="translate(414.643,259.100) scale(0.835,1)">0</text>
<text font-family="Liberation Sans, sans-serif" font-weight="bold" stroke-width="0.35" fill="#000" stroke="#000" font-size="12.40" transform="translate(406.008,240.000) scale(0.835,1)">0</text>
<text font-family="Liberation Sans, sans-serif" font-weight="bold" stroke-width="0.35" fill="#000" stroke="#000" font-size="12.40" transform="translate(411.765,240.000) scale(0.835,1)">.</text>
<text font-family="Liberation Sans, sans-serif" font-weight="bold" stroke-width="0.35" fill="#000" stroke="#000" font-size="12.40" transform="translate(414.643,240.000) scale(0.835,1)">2</text>
<text font-family="Liberation Sans, sans-serif" font-weight="bold" stroke-width="0.35" fill="#000" stroke="#000" font-size="12.40" transform="translate(406.008,220.900) scale(0.835,1)">0</text>
<text font-family="Liberation Sans, sans-serif" font-weight="bold" stroke-width="0.35" fill="#000" stroke="#000" font-size="12.40" transform="translate(411.765,220.900) scale(0.835,1)">.</text>
<text font-family="Liberation Sans, sans-serif" font-weight="bold" stroke-width="0.35" fill="#000" stroke="#000" font-size="12.40" transform="translate(414.643,220.900) scale(0.835,1)">4</text>
<text font-family="Liberation Sans, sans-serif" font-weight="bold" stroke-width="0.35" fill="#000" stroke="#000" font-size="12.40" transform="translate(406.008,201.800) scale(0.835,1)">0</text>
<text font-family="Liberation Sans, sans-serif" font-weight="bold" stroke-width="0.35" fill="#000" stroke="#000" font-size="12.40" transform="translate(411.765,201.800) scale(0.835,1)">.</text>
<text font-family="Liberation Sans, sans-serif" font-weight="bold" stroke-width="0.35" fill="#000" stroke="#000" font-size="12.40" transform="translate(414.643,201.800) scale(0.835,1)">6</text>
<text font-family="Liberation Sans, sans-serif" font-weight="bold" stroke-width="0.35" fill="#000" stroke="#000" font-size="12.40" transform="translate(406.008,182.700) scale(0.835,1)">0</text>
<text font-family="Liberation Sans, sans-serif" font-weight="bold" stroke-width="0.35" fill="#000" stroke="#000" font-size="12.40" transform="translate(411.765,182.700) scale(0.835,1)">.</text>
<text font-family="Liberation Sans, sans-serif" font-weight="bold" stroke-width="0.35" fill="#000" stroke="#000" font-size="12.40" transform="translate(414.643,182.700) scale(0.835,1)">8</text>
<path d="M405 0H266V516Q192 446 78 410V536Q140 556 206 606Q270 656 292 716H405Z" fill="#000" stroke="#000" stroke-width="0.35" vector-effect="non-scaling-stroke" transform="translate(406.008,163.600) scale(0.01035,-0.01240)"/>
<text font-family="Liberation Sans, sans-serif" font-weight="bold" stroke-width="0.35" fill="#000" stroke="#000" font-size="12.40" transform="translate(411.765,163.600) scale(0.835,1)">.</text>
<text font-family="Liberation Sans, sans-serif" font-weight="bold" stroke-width="0.35" fill="#000" stroke="#000" font-size="12.40" transform="translate(414.643,163.600) scale(0.835,1)">0</text>
<path d="M405 0H266V516Q192 446 78 410V536Q140 556 206 606Q270 656 292 716H405Z" fill="#000" stroke="#000" stroke-width="0.35" vector-effect="non-scaling-stroke" transform="translate(406.008,144.500) scale(0.01035,-0.01240)"/>
<text font-family="Liberation Sans, sans-serif" font-weight="bold" stroke-width="0.35" fill="#000" stroke="#000" font-size="12.40" transform="translate(411.765,144.500) scale(0.835,1)">.</text>
<text font-family="Liberation Sans, sans-serif" font-weight="bold" stroke-width="0.35" fill="#000" stroke="#000" font-size="12.40" transform="translate(414.643,144.500) scale(0.835,1)">2</text>
<path d="M405 0H266V516Q192 446 78 410V536Q140 556 206 606Q270 656 292 716H405Z" fill="#000" stroke="#000" stroke-width="0.35" vector-effect="non-scaling-stroke" transform="translate(406.008,125.400) scale(0.01035,-0.01240)"/>
<text font-family="Liberation Sans, sans-serif" font-weight="bold" stroke-width="0.35" fill="#000" stroke="#000" font-size="12.40" transform="translate(411.765,125.400) scale(0.835,1)">.</text>
<text font-family="Liberation Sans, sans-serif" font-weight="bold" stroke-width="0.35" fill="#000" stroke="#000" font-size="12.40" transform="translate(414.643,125.400) scale(0.835,1)">4</text>
<path d="M405 0H266V516Q192 446 78 410V536Q140 556 206 606Q270 656 292 716H405Z" fill="#000" stroke="#000" stroke-width="0.35" vector-effect="non-scaling-stroke" transform="translate(406.008,106.300) scale(0.01035,-0.01240)"/>
<text font-family="Liberation Sans, sans-serif" font-weight="bold" stroke-width="0.35" fill="#000" stroke="#000" font-size="12.40" transform="translate(411.765,106.300) scale(0.835,1)">.</text>
<text font-family="Liberation Sans, sans-serif" font-weight="bold" stroke-width="0.35" fill="#000" stroke="#000" font-size="12.40" transform="translate(414.643,106.300) scale(0.835,1)">6</text>
<path d="M405 0H266V516Q192 446 78 410V536Q140 556 206 606Q270 656 292 716H405Z" fill="#000" stroke="#000" stroke-width="0.35" vector-effect="non-scaling-stroke" transform="translate(406.008,87.200) scale(0.01035,-0.01240)"/>
<text font-family="Liberation Sans, sans-serif" font-weight="bold" stroke-width="0.35" fill="#000" stroke="#000" font-size="12.40" transform="translate(411.765,87.200) scale(0.835,1)">.</text>
<text font-family="Liberation Sans, sans-serif" font-weight="bold" stroke-width="0.35" fill="#000" stroke="#000" font-size="12.40" transform="translate(414.643,87.200) scale(0.835,1)">8</text>
<text font-family="Liberation Sans, sans-serif" font-weight="bold" stroke-width="0.35" fill="#000" stroke="#000" font-size="12.40" transform="translate(406.008,68.100) scale(0.835,1)">2</text>
<text font-family="Liberation Sans, sans-serif" font-weight="bold" stroke-width="0.35" fill="#000" stroke="#000" font-size="12.40" transform="translate(411.765,68.100) scale(0.835,1)">.</text>
<text font-family="Liberation Sans, sans-serif" font-weight="bold" stroke-width="0.35" fill="#000" stroke="#000" font-size="12.40" transform="translate(414.643,68.100) scale(0.835,1)">0</text>
<text font-family="Liberation Sans, sans-serif" font-weight="bold" stroke-width="0.35" fill="#000" stroke="#000" font-size="12.40" transform="translate(406.008,49.000) scale(0.835,1)">2</text>
<text font-family="Liberation Sans, sans-serif" font-weight="bold" stroke-width="0.35" fill="#000" stroke="#000" font-size="12.40" transform="translate(411.765,49.000) scale(0.835,1)">.</text>
<text font-family="Liberation Sans, sans-serif" font-weight="bold" stroke-width="0.35" fill="#000" stroke="#000" font-size="12.40" transform="translate(414.643,49.000) scale(0.835,1)">2</text>
<text font-family="Liberation Sans, sans-serif" font-weight="bold" stroke-width="0.35" fill="#000" stroke="#000" font-size="12.40" transform="translate(406.008,29.900) scale(0.835,1)">2</text>
<text font-family="Liberation Sans, sans-serif" font-weight="bold" stroke-width="0.35" fill="#000" stroke="#000" font-size="12.40" transform="translate(411.765,29.900) scale(0.835,1)">.</text>
<text font-family="Liberation Sans, sans-serif" font-weight="bold" stroke-width="0.35" fill="#000" stroke="#000" font-size="12.40" transform="translate(414.643,29.900) scale(0.835,1)">4</text>
<text font-family="Liberation Sans, sans-serif" font-weight="bold" stroke-width="0.35" fill="#000" stroke="#000" font-size="12.40" transform="translate(406.008,10.800) scale(0.835,1)">2</text>
<text font-family="Liberation Sans, sans-serif" font-weight="bold" stroke-width="0.35" fill="#000" stroke="#000" font-size="12.40" transform="translate(411.765,10.800) scale(0.835,1)">.</text>
<text font-family="Liberation Sans, sans-serif" font-weight="bold" stroke-width="0.35" fill="#000" stroke="#000" font-size="12.40" transform="translate(414.643,10.800) scale(0.835,1)">6</text>
<text font-family="Liberation Sans, sans-serif" font-weight="bold" stroke-width="0.35" fill="#000" stroke="#000" font-size="12.10" transform="translate(422.591,272.000) scale(0.835,1)">0</text>
<path d="M405 0H266V516Q192 446 78 410V536Q140 556 206 606Q270 656 292 716H405Z" fill="#000" stroke="#000" stroke-width="0.35" vector-effect="non-scaling-stroke" transform="translate(466.082,272.000) scale(0.01010,-0.01210)"/>
<text font-family="Liberation Sans, sans-serif" font-weight="bold" stroke-width="0.35" fill="#000" stroke="#000" font-size="12.10" transform="translate(471.700,272.000) scale(0.835,1)">0</text>
<text font-family="Liberation Sans, sans-serif" font-weight="bold" stroke-width="0.35" fill="#000" stroke="#000" font-size="12.10" transform="translate(512.382,272.000) scale(0.835,1)">2</text>
<text font-family="Liberation Sans, sans-serif" font-weight="bold" stroke-width="0.35" fill="#000" stroke="#000" font-size="12.10" transform="translate(518.000,272.000) scale(0.835,1)">0</text>
<text font-family="Liberation Sans, sans-serif" font-weight="bold" stroke-width="0.35" fill="#000" stroke="#000" font-size="12.10" transform="translate(558.682,272.000) scale(0.835,1)">3</text>
<text font-family="Liberation Sans, sans-serif" font-weight="bold" stroke-width="0.35" fill="#000" stroke="#000" font-size="12.10" transform="translate(564.300,272.000) scale(0.835,1)">0</text>
<text font-family="Liberation Sans, sans-serif" font-weight="bold" stroke-width="0.35" fill="#000" stroke="#000" font-size="12.10" transform="translate(604.982,272.000) scale(0.835,1)">4</text>
<text font-family="Liberation Sans, sans-serif" font-weight="bold" stroke-width="0.35" fill="#000" stroke="#000" font-size="12.10" transform="translate(610.600,272.000) scale(0.835,1)">0</text>
<text font-family="Liberation Sans, sans-serif" font-weight="bold" stroke-width="0.35" fill="#000" stroke="#000" font-size="12.10" transform="translate(651.282,272.000) scale(0.835,1)">5</text>
<text font-family="Liberation Sans, sans-serif" font-weight="bold" stroke-width="0.35" fill="#000" stroke="#000" font-size="12.10" transform="translate(656.900,272.000) scale(0.835,1)">0</text>
<text font-family="Liberation Sans, sans-serif" font-weight="bold" stroke-width="0.35" fill="#000" stroke="#000" font-size="12.10" transform="translate(697.582,272.000) scale(0.835,1)">6</text>
<text font-family="Liberation Sans, sans-serif" font-weight="bold" stroke-width="0.35" fill="#000" stroke="#000" font-size="12.10" transform="translate(703.200,272.000) scale(0.835,1)">0</text>
<text font-family="Liberation Sans, sans-serif" font-weight="bold" stroke-width="0.35" fill="#000" stroke="#000" font-size="14.4" text-anchor="middle" transform="translate(574.4,287.6) scale(0.860,1)">Distance (<tspan font-weight="normal" stroke-width="0.5">μ</tspan>m)</text>
<text font-family="Liberation Sans, sans-serif" font-weight="bold" stroke-width="0.35" fill="#000" stroke="#000" font-size="13.6" text-anchor="middle" transform="translate(396.45,120.75) rotate(-90) scale(1.145,0.95)">Intensity</text>
<rect x="443.00" y="10.80" width="39.40" height="49.50" fill="#fff" stroke="#a3a3a3" stroke-width="1"/>
<line x1="443.80" y1="18.80" x2="466.30" y2="18.80" stroke="#111" stroke-width="1.6"/>
<text font-family="Liberation Sans, sans-serif" font-weight="bold" stroke-width="0.35" font-size="12.00" fill="#000" stroke="#000" transform="translate(469.00,23.50) scale(0.890,1)">Fe</text>
<line x1="443.80" y1="36.20" x2="466.30" y2="36.20" stroke="#e8141c" stroke-width="1.6"/>
<text font-family="Liberation Sans, sans-serif" font-weight="bold" stroke-width="0.35" font-size="12.00" fill="#e8141c" stroke="#e8141c" transform="translate(469.80,40.40) scale(0.890,1)">O</text>
<line x1="443.80" y1="52.60" x2="466.30" y2="52.60" stroke="#2450a8" stroke-width="1.6"/>
<text font-family="Liberation Sans, sans-serif" font-weight="bold" stroke-width="0.35" font-size="12.00" fill="#2450a8" stroke="#2450a8" transform="translate(469.80,57.00) scale(0.890,1)">Si</text>
<polyline points="426.20,246.84 426.22,246.90 426.26,246.01 426.34,245.65 426.45,244.58 426.60,244.07 426.80,243.54 427.04,242.60 427.31,241.91 427.63,241.07 428.00,240.35 428.32,240.00 428.68,239.74 429.05,239.70 429.46,239.37 429.90,239.21 430.46,239.20 431.06,238.68 431.70,238.63 432.35,238.76 433.00,238.36 433.64,238.27 434.28,238.39 434.92,238.22 435.62,238.29 436.40,238.16 437.83,238.22 439.46,238.09 441.21,237.76 442.99,237.82 444.70,237.59 446.35,237.25 448.01,237.48 449.67,236.95 451.30,236.71 452.90,236.50 454.36,236.60 455.81,236.55 457.23,236.33 458.63,235.96 460.00,235.68 461.21,235.36 462.37,235.49 463.53,235.23 464.72,234.86 466.00,234.67 467.84,234.00 469.79,233.55 471.82,232.67 473.91,231.57 476.00,231.00 477.21,230.02 478.43,229.70 479.67,229.03 480.92,228.34 482.18,227.60 483.45,227.32 484.71,226.29 485.98,225.90 487.24,225.46 488.50,224.42 489.75,223.83 491.00,223.42 492.26,222.75 493.51,222.20 494.76,221.67 496.02,220.73 497.27,220.16 498.51,219.52 499.76,218.74 501.00,218.49 502.26,217.73 503.51,216.98 504.76,215.88 506.01,215.55 507.26,214.74 508.50,213.85 509.75,213.23 510.99,212.33 512.25,211.49 513.50,210.70 514.74,210.07 515.99,209.28 517.23,208.74 518.48,208.26 519.73,207.56 520.98,206.96 522.23,206.23 523.48,205.35 524.74,204.86 526.00,204.17 527.24,203.73 528.48,202.99 529.73,202.27 530.97,201.86 532.22,201.44 533.47,200.49 534.73,200.27 535.98,199.29 537.24,198.90 538.50,198.37 539.74,198.15 540.99,197.78 542.24,197.25 543.49,196.61 544.75,196.47 546.00,195.78 547.25,195.34 548.51,195.28 549.75,194.75 551.00,194.40 552.20,194.01 553.41,193.80 554.60,193.19 555.80,193.02 556.99,192.60 558.19,192.34 559.39,191.79 560.58,191.59 561.79,191.18 563.00,190.70 564.24,190.30 565.48,190.15 566.73,189.52 567.97,189.58 569.23,188.84 570.48,188.43 571.73,188.14 572.99,188.22 574.24,187.62 575.50,187.22 576.75,186.90 577.99,186.64 579.24,186.73 580.49,186.46 581.74,186.28 582.99,186.08 584.24,185.54 585.49,185.61 586.75,185.31 588.00,185.36 589.25,185.20 590.50,185.08 591.75,184.53 593.00,184.79 594.25,184.69 595.50,184.59 596.75,184.05 598.00,183.99 599.25,183.82 600.50,183.67 601.72,183.96 602.93,183.82 605.29,183.51 606.49,183.50 607.69,183.29 608.96,183.02 610.22,182.81 611.61,182.71 613.00,182.93 614.48,182.55 615.97,182.50 617.45,182.45 618.68,182.18 619.92,182.22 621.15,182.15 622.38,182.29 623.68,182.04 624.98,181.94 626.29,182.19 627.59,181.88 628.91,181.98 630.22,181.79 631.54,181.43 632.86,181.54 634.15,181.48 635.43,181.58 636.72,181.29 638.00,181.40 639.25,181.25 640.50,181.02 641.75,181.27 643.00,180.81 644.25,181.11 645.50,180.72 646.75,180.56 648.00,180.59 649.25,180.81 650.50,180.85 651.75,180.29 653.00,180.47 654.25,180.41 655.50,180.50 656.75,180.13 658.00,180.22 659.25,180.09 660.50,180.28 661.75,179.94 663.00,180.22 664.28,179.84 665.56,179.76 666.83,179.95 668.11,179.80 669.42,179.56 670.72,179.78 672.03,179.46 673.33,179.77 674.62,179.68 675.92,179.69 677.21,179.57 678.50,179.39 679.74,179.38 680.97,179.34 682.21,179.55 683.44,179.12 684.96,179.48 686.48,179.00 688.00,179.05 689.79,179.04 691.57,179.31 692.84,179.09 694.11,179.00 695.37,179.22 697.10,178.87 698.82,178.94 700.08,178.96 701.33,179.04 702.30,178.90" fill="none" stroke="#111" stroke-width="1.90" stroke-linejoin="round" stroke-linecap="round"/>
<polyline points="425.60,212.21 425.60,210.91 425.60,209.45 425.60,208.23 425.60,206.87 425.60,206.24 425.60,204.88 425.60,203.74 425.60,202.05 425.60,201.06 425.60,200.14 425.60,198.76 425.60,197.17 425.60,196.25 425.60,195.39 425.60,193.64 425.60,192.39 425.60,191.28 425.60,190.40 425.60,189.31 425.60,187.52 425.60,186.32 425.60,185.18 425.60,184.04 425.60,183.00 425.60,181.48 425.60,180.41 425.60,179.09 425.60,178.54 425.60,177.12 425.60,175.39 425.60,174.90 425.60,172.97 425.60,172.00 425.60,171.29 425.60,169.92 425.60,168.66 425.60,167.20 425.60,165.79 425.60,164.95 425.60,163.30 425.60,162.17 425.60,161.12 425.60,159.61 425.63,158.92 425.66,157.97 425.70,156.62 425.74,154.73 425.79,153.12 425.83,151.74 425.86,150.24 425.90,149.39 425.95,147.57 426.00,146.20 426.06,144.75 426.11,142.75 426.17,141.21 426.23,139.71 426.30,137.77 426.36,135.95 426.42,134.77 426.48,133.30 426.54,131.72 426.60,130.17 426.69,128.15 426.77,125.98 426.85,124.01 426.93,121.92 427.00,119.84 427.06,118.06 427.10,115.52 427.14,113.72 427.20,112.05 427.30,110.18 427.38,108.87 427.46,107.37 427.56,106.41 427.70,105.40 427.90,104.60 428.08,103.81 428.28,103.48 428.51,103.17 428.78,102.04 429.10,101.93 429.54,101.44 430.04,100.52 430.60,100.04 431.19,99.90 431.80,98.61 432.45,98.54 433.14,97.74 433.85,97.83 434.57,97.61 435.30,97.02 435.97,96.57 436.65,96.96 437.34,97.01 438.02,97.26 438.70,97.21 439.38,97.48 440.06,97.86 440.74,97.84 441.42,97.96 442.10,98.58 442.78,98.06 443.45,98.53 444.14,98.33 444.82,98.65 445.50,98.08 446.20,98.74 446.91,98.10 447.61,97.70 448.31,97.71 449.00,97.62 449.69,97.05 450.37,97.12 451.05,96.82 451.72,96.75 452.40,96.18 453.08,95.84 453.76,95.56 454.45,95.75 455.13,95.66 455.80,95.02 456.48,94.43 457.15,94.57 457.82,93.85 458.50,93.33 459.20,92.89 460.14,92.97 461.25,92.47 462.30,91.83 463.09,91.32 463.40,91.25 463.62,92.17 463.83,93.99 464.05,94.68 464.27,96.12 464.48,97.47 464.70,98.67 464.94,97.01 465.18,95.51 465.42,94.36 465.66,92.65 465.90,91.88 466.09,91.28 466.58,91.20 467.25,90.05 467.99,89.46 468.70,88.79 469.45,88.47 470.26,87.84 471.11,87.29 471.96,87.50 472.80,86.72 473.64,86.28 474.47,85.94 475.31,85.69 476.16,85.19 477.00,84.82 478.06,83.94 479.10,82.64 480.16,81.97 481.25,80.77 482.40,79.03 483.70,78.64 485.07,77.70 486.48,76.61 487.90,75.09 489.30,74.68 490.71,73.49 492.16,71.93 493.58,70.89 494.95,70.66 496.20,69.43 497.09,68.35 497.91,67.51 498.68,66.84 499.47,66.21 500.30,65.93 501.28,64.70 502.31,63.62 503.34,63.34 504.38,62.39 505.40,61.12 506.22,61.24 507.03,60.59 507.84,60.37 508.66,59.89 509.50,59.63 510.51,58.92 511.54,58.26 512.59,57.00 513.64,56.71 514.70,55.93 515.70,55.54 516.70,54.75 517.70,54.62 518.73,53.87 519.80,53.20 521.00,52.77 522.25,52.34 523.52,52.32 524.78,51.68 526.00,51.77 527.05,51.32 528.07,51.46 529.08,51.34 530.09,51.26 531.10,51.40 532.12,50.56 533.14,51.14 534.16,50.71 535.18,50.68 536.20,50.64 537.24,50.65 538.28,50.11 539.32,50.00 540.36,50.32 541.40,49.44 542.44,49.79 543.49,49.66 544.53,49.04 545.54,49.44 546.50,49.45 547.24,49.66 547.94,49.19 548.63,49.78 549.31,49.45 550.00,49.49 550.70,49.90 551.39,49.25 552.08,49.91 552.81,49.92 553.60,49.76 554.77,50.32 556.04,50.01 557.37,50.22 558.70,50.39 560.00,50.73 561.19,50.39 562.34,50.72 563.50,50.85 564.71,51.14 566.00,51.57 567.83,51.46 569.78,52.30 571.82,52.37 573.91,52.92 576.00,53.21 577.17,53.69 578.33,54.38 579.53,54.42 580.72,54.85 581.93,54.79 583.15,55.11 584.36,55.41 585.58,55.98 586.79,56.32 588.00,56.74 589.19,56.39 590.39,57.25 591.58,57.66 592.77,57.65 593.96,57.49 595.15,57.96 596.36,57.95 597.56,58.34 598.78,59.15 600.00,59.09 601.28,59.29 602.56,59.55 603.87,59.76 605.17,59.61 606.48,59.70 607.79,59.79 609.10,59.94 610.41,59.94 611.70,60.13 613.00,59.86 614.26,60.39 615.52,60.37 616.77,60.80 618.02,60.42 619.27,60.66 620.51,60.72 621.76,61.52 623.00,61.82 624.25,61.77 625.50,61.69 626.75,62.22 628.00,62.34 629.25,62.30 630.50,62.19 631.75,62.37 633.00,62.61 634.25,62.66 635.50,62.89 636.75,63.19 638.00,63.56 639.25,62.95 640.50,63.50 641.75,63.16 643.00,63.34 644.25,64.03 645.50,63.94 646.75,64.33 648.00,64.04 649.25,63.78 650.50,64.21 651.75,64.49 653.00,64.89 654.25,65.04 655.50,64.73 656.75,64.79 658.00,64.64 659.25,65.20 660.50,64.95 661.75,65.00 663.00,64.99 664.25,65.08 665.50,65.75 666.75,65.37 668.00,66.18 669.25,65.53 670.50,66.27 671.75,65.74 673.00,65.73 674.25,66.40 675.50,66.08 676.74,66.57 677.99,66.19 679.23,66.15 680.47,66.84 681.71,66.85 682.95,67.04 684.20,67.00 685.45,66.53 686.73,67.05 688.00,67.18 689.60,67.03 691.20,67.49 692.42,66.97 693.65,67.61 694.88,67.45 696.63,66.91 698.37,66.98 699.67,67.55 700.97,67.73 702.00,67.50" fill="none" stroke="#e8141c" stroke-width="1.70" stroke-linejoin="round" stroke-linecap="round"/>
<line x1="425.6" y1="200" x2="425.6" y2="92" stroke="#1d3f8f" stroke-width="1.5"/>
<polyline points="425.50,91.87 425.56,91.02 425.70,88.84 425.80,87.14 425.89,85.82 426.00,84.14 426.11,82.44 426.20,81.25 426.30,80.02 426.43,78.41 426.55,76.96 426.68,75.36 426.83,74.25 427.00,72.96 427.12,72.33 427.26,71.61 427.40,70.91 427.55,70.44 427.70,70.39 427.86,70.58 428.03,70.93 428.20,71.41 428.36,71.91 428.50,72.37 428.61,73.11 428.69,73.49 428.76,74.01 428.83,74.38 428.90,75.03 429.01,76.16 429.12,77.26 429.23,78.42 429.35,79.63 429.50,80.98 429.72,82.85 429.96,84.58 430.24,86.59 430.55,88.40 430.90,90.12 431.19,91.12 431.51,91.89 431.84,92.69 432.18,93.63 432.50,94.58 432.80,95.53 433.09,96.50 433.37,97.43 433.67,98.10 434.00,99.30 434.42,100.48 434.88,101.73 435.35,102.90 435.83,104.08 436.30,105.51 436.76,106.74 437.21,107.96 437.66,109.28 438.12,110.35 438.60,111.48 439.05,112.74 439.51,113.91 439.98,114.82 440.47,116.04 441.00,117.13 441.55,117.90 442.13,118.97 442.73,119.93 443.36,120.76 444.00,121.51 444.58,122.22 445.18,123.01 445.80,123.63 446.43,124.11 447.10,124.58 447.83,125.37 448.60,125.92 449.39,126.30 450.20,126.92 451.00,127.52 451.79,127.99 452.58,128.35 453.38,128.77 454.19,129.23 455.00,129.51 455.79,129.87 456.59,130.22 457.39,130.70 458.19,130.89 459.00,131.22 459.83,131.39 460.70,131.60 461.55,131.65 462.34,131.78 463.00,132.25 463.38,132.22 463.75,132.32 464.08,132.65 464.31,132.83 464.40,132.70 464.63,134.10 464.87,135.29 465.10,136.61 467.10,135.36 467.45,135.36 468.32,135.66 469.51,135.67 470.77,135.64 471.90,135.82 472.98,135.99 474.08,136.49 475.19,136.78 476.30,137.35 477.40,137.68 478.50,138.05 479.60,138.44 480.71,138.57 481.81,138.87 482.90,139.31 484.01,139.74 485.11,140.17 486.21,140.63 487.30,141.26 488.40,141.81 489.48,142.12 490.56,142.69 491.64,143.10 492.72,143.26 493.80,143.83 494.90,144.17 496.01,144.49 497.11,145.13 498.21,145.32 499.30,145.82 500.37,146.23 501.46,146.71 502.52,147.02 503.52,147.38 504.40,147.88 504.99,148.24 505.49,148.96 505.96,149.47 506.44,149.77 507.00,150.26 507.91,151.12 508.92,151.99 509.99,153.04 511.07,153.96 512.10,154.90 513.16,155.75 514.21,157.11 515.25,158.27 516.28,159.45 517.30,160.75 518.33,161.68 519.36,162.93 520.38,164.36 521.39,165.67 522.40,166.85 523.43,168.06 524.45,169.48 525.46,170.88 526.48,172.03 527.50,173.45 528.53,174.81 529.55,176.18 530.58,177.69 531.63,178.95 532.70,180.22 533.69,181.22 534.68,182.34 535.70,183.05 536.74,184.16 537.80,184.91 538.95,185.82 540.13,187.04 541.33,187.77 542.55,188.95 543.80,189.91 545.18,191.01 546.58,191.89 548.01,193.11 549.48,194.16 551.00,195.63 551.93,196.36 552.86,197.06 553.82,197.80 554.78,198.56 555.77,199.53 556.77,200.25 557.80,201.13 558.83,201.82 559.92,202.68 561.00,203.47 562.36,204.66 563.72,205.61 565.18,206.52 566.63,207.76 567.63,208.26 568.63,209.00 569.63,209.61 570.62,210.32 571.62,211.17 572.61,211.69 574.06,212.62 575.50,213.70 576.77,214.52 578.04,215.58 579.29,216.21 580.53,217.33 581.77,217.90 583.00,219.00 584.24,219.73 585.48,220.40 586.74,221.24 588.00,221.94 589.23,222.60 590.46,223.27 591.71,223.95 592.95,224.78 594.20,225.38 595.45,225.96 596.71,226.27 597.97,226.89 599.23,227.60 600.50,227.87 601.74,228.53 602.98,228.86 604.23,229.47 605.47,229.59 606.73,230.21 607.98,230.45 609.24,230.76 610.49,231.09 611.75,231.72 613.00,232.01 614.25,232.29 615.50,232.76 616.75,233.29 618.00,233.47 619.25,233.96 620.49,234.21 621.75,234.60 623.00,235.15 624.25,235.50 625.50,235.71 626.75,236.03 628.00,236.39 629.24,236.90 630.49,237.21 631.74,237.49 632.99,237.81 634.24,238.27 635.49,238.63 636.75,238.98 638.00,239.22 639.25,239.41 640.50,239.67 641.74,240.16 642.99,240.35 644.24,240.72 645.49,240.80 646.75,241.29 648.00,241.42 649.25,241.84 650.50,242.11 651.75,242.26 653.00,242.38 654.25,242.91 655.50,243.04 656.75,243.41 657.99,243.49 659.25,243.71 660.50,244.14 661.75,244.23 663.00,244.40 664.25,244.67 665.50,244.95 666.75,244.97 668.00,245.32 669.25,245.49 670.50,245.69 671.75,245.76 673.00,246.11 674.25,246.32 675.50,246.51 676.74,246.52 677.99,246.82 679.22,246.89 680.46,247.18 681.70,247.14 682.94,247.55 684.20,247.72 685.45,247.74 686.73,247.87 688.00,248.01 689.60,248.13 691.19,248.10 692.42,248.46 693.65,248.31 694.88,248.37 696.63,248.43 698.37,248.56 699.67,248.79 700.97,248.62 702.00,248.80" fill="none" stroke="#2450a8" stroke-width="1.70" stroke-linejoin="round" stroke-linecap="round"/>
</svg>
</body></html>
